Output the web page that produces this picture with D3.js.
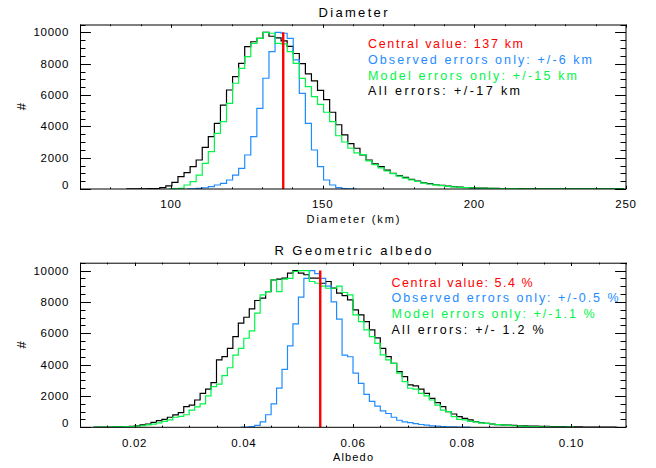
<!DOCTYPE html>
<html><head><meta charset="utf-8">
<script src="https://cdn.jsdelivr.net/npm/d3@7"></script>
<style>
body{margin:0;background:#fff;}
svg{display:block;font-family:"Liberation Sans",Arial,Helvetica,sans-serif;}
</style></head><body>
<svg id="chart" width="656" height="468"></svg>
<script>
// ================= DATA =================
// --- Diameter panel (km), histogram bins 2 km wide, values are bin counts ---
const diameterCentral = 137;
const diameterBinWidth = 2;
const diameterAllStart = 85.3;
const diameterAll = [5,8,10,15,20,30,90,200,420,790,1040,1430,1850,2660,3340,4190,5360,6320,7170,8020,9090,9400,9620,10000,9750,9650,9450,9100,8650,8000,7350,6900,6300,5700,4900,4100,3450,2900,2600,2170,1850,1600,1430,1210,1000,850,740,620,510,400,340,270,230,190,150,115,95,75,60,50,42,36,30,26,22,19,16,14,12,10,9,8,7,6,6,5,5,4,4,4,3,3,3];
const diameterModelStart = 99.3;
const diameterModel = [10,20,40,255,470,890,1640,2380,3550,4300,5470,6750,7700,8450,9300,9620,10000,9940,9300,9260,8770,8020,7060,6530,5900,5400,4900,4300,3400,3000,2600,2300,2200,1800,1550,1350,1150,980,820,700,580,480,380,320,260,210,170,140,110,90,70,55,45,38,32,27,23,19,16,14,12,10,9,8,7,6,5,5,4,4,3,3,3,2,2,2];
const diameterObservedStart = 105.3;
const diameterObserved = [5,15,40,80,150,255,360,575,890,1320,2170,3340,5150,7070,8770,10000,9940,9620,8240,6110,4190,2490,1430,575,255,85,30,10,0];
const diameterXTicks = [100, 150, 200, 250];
const diameterLegend = ["Central value: 137 km", "Observed errors only: +/-6 km", "Model errors only: +/-15 km", "All errors: +/-17 km"];

// --- Albedo panel, histogram bins 0.001 wide ---
const albedoCentral = 0.054;
const albedoBinWidth = 0.001;
const albedoAllStart = 0.0125;
const albedoAll = [5,10,15,20,25,30,45,60,100,150,210,320,420,510,640,790,930,1320,1420,1740,2170,2430,2850,4300,4510,5040,5790,6640,7020,7550,8090,8240,8660,9410,9450,9520,9840,10000,9840,9730,9510,9510,9190,9300,8880,8560,8400,8130,7490,7170,6740,6210,5700,5040,4510,4080,3550,3230,2700,2640,2430,2170,1850,1570,1320,1000,850,680,570,470,360,300,250,210,170,150,140,120,100,90,80,70,60,55,50,45,40,35,30,25,20,15,12,10,8,5,3];
const albedoModelStart = 0.0125;
const albedoModel = [5,10,15,20,25,30,40,50,70,100,150,200,280,380,480,640,700,800,1100,1300,1500,2000,2600,2750,3300,3800,4600,5040,5680,6150,7280,8450,8660,9410,8660,9450,9500,9940,10000,10000,9300,9190,9000,8870,8870,9000,8600,8450,7170,6740,6210,5790,5360,4620,4300,4080,3450,2910,2490,2430,2170,2000,1740,1420,1100,1000,680,510,470,380,340,280,250,210,170,150,125,100,80,65,50,40,30,25,20,15,10,8,5];
const albedoObservedStart = 0.0395;
const albedoObserved = [5,15,40,120,350,800,1500,2500,3700,5200,6600,8300,9500,10000,9800,9500,9000,8000,6900,4600,4500,3450,2800,2100,1650,1350,1050,880,640,450,350,300,240,180,140,95,70,50,35,25,15,10,5];
const albedoXTicks = [0.02, 0.04, 0.06, 0.08, 0.10];
const albedoLegend = ["Central value: 5.4 %", "Observed errors only: +/-0.5 %", "Model errors only: +/-1.1 %", "All errors: +/- 1.2 %"];

const countTicks = [0, 2000, 4000, 6000, 8000, 10000];

// ================= DRAWING =================
const COLORS = {all: "#000000", model: "#00F548", observed: "#1E8CFF", central: "#FF0000"};
const svg = d3.select("#chart");

function toBins(start, width, counts) {
  return counts.map((c, i) => [start + i * width, c]);
}

function drawPanel(o) {
  const x = d3.scaleLinear().domain(o.xDomain).range([80, 626]);
  const y = d3.scaleLinear().domain([0, 10500]).range([o.bottom, o.top]);
  const g = svg.append("g");
  const clipId = "clip" + o.id;
  svg.append("clipPath").attr("id", clipId).append("rect")
    .attr("x", 80).attr("y", o.top).attr("width", 546).attr("height", o.bottom - o.top);

  const plot = g.append("g").attr("clip-path", `url(#${clipId})`);
  const line = d3.line().x(d => x(d[0])).y(d => y(d[1])).curve(d3.curveStep);
  const series = [
    {bins: toBins(o.allStart, o.binWidth, o.all), color: COLORS.all},
    {bins: toBins(o.obsStart, o.binWidth, o.obs), color: COLORS.observed},
    {bins: toBins(o.modelStart, o.binWidth, o.model), color: COLORS.model}
  ];
  series.forEach(s => {
    plot.append("path").attr("d", line(s.bins)).attr("fill", "none")
      .attr("stroke", s.color).attr("stroke-width", 1.2);
  });
  plot.append("line").attr("x1", x(o.central)).attr("x2", x(o.central))
    .attr("y1", y(0)).attr("y2", y(10000))
    .attr("stroke", COLORS.central).attr("stroke-width", 2.4);

  // frame
  g.append("rect").attr("x", 80.5).attr("y", o.top + 0.5).attr("width", 545.5).attr("height", o.bottom - o.top - 0.5)
    .attr("fill", "none").attr("stroke", "#000").attr("stroke-width", 1);

  // x ticks (bottom & top)
  const xMinor = d3.range(o.xDomain[0], o.xDomain[1] + o.xMinorStep / 2, o.xMinorStep);
  const tk = g.append("g").attr("stroke", "#000").attr("stroke-width", 1);
  xMinor.forEach(v => {
    const isMajor = o.xTicks.some(t => Math.abs(t - v) < o.xMinorStep / 10);
    const len = isMajor ? 3.3 : 1.7;
    const px = Math.round(x(v)) + 0.5;
    tk.append("line").attr("x1", px).attr("x2", px).attr("y1", o.bottom).attr("y2", o.bottom - len);
    tk.append("line").attr("x1", px).attr("x2", px).attr("y1", o.top).attr("y2", o.top + len);
  });
  // y ticks (left & right)
  d3.range(0, 10501, 500).forEach(v => {
    const isMajor = v % 2000 === 0;
    const len = isMajor ? 10.9 : 5.5;
    const py = Math.round(y(v)) + 0.5;
    tk.append("line").attr("x1", 80).attr("x2", 80 + len).attr("y1", py).attr("y2", py);
    tk.append("line").attr("x1", 626).attr("x2", 626 - len).attr("y1", py).attr("y2", py);
  });

  // tick labels
  const lab = g.append("g").attr("font-size", 11.5).attr("fill", "#000").style("letter-spacing", "0.7px");
  o.xTicks.forEach(t => {
    lab.append("text").attr("x", x(t)).attr("y", o.bottom + 19.4).attr("text-anchor", "middle")
      .text(o.xFormat(t));
  });
  countTicks.forEach(t => {
    lab.append("text").attr("x", 69).attr("y", Math.min(y(t) + 4, o.bottom)).attr("text-anchor", "end")
      .text(t);
  });

  // titles
  g.append("text").attr("x", 353).attr("y", o.top - 8).attr("text-anchor", "middle")
    .attr("font-size", 13).attr("textLength", o.titleLen).attr("lengthAdjust", "spacing").text(o.title);
  g.append("text").attr("x", 353).attr("y", o.bottom + 33.6).attr("text-anchor", "middle")
    .attr("font-size", 11).attr("textLength", o.xTitleLen).attr("lengthAdjust", "spacing").text(o.xTitle);
  g.append("text").attr("transform", `translate(26,${(o.top + o.bottom) / 2}) rotate(-90)`)
    .attr("text-anchor", "middle").attr("font-size", 13).text("#");

  // legend
  const legColors = [COLORS.central, COLORS.observed, COLORS.model, COLORS.all];
  o.legend.forEach((t, i) => {
    g.append("text").attr("x", o.legX).attr("y", o.legY + i * 15.7)
      .attr("font-size", 12.5).attr("fill", legColors[i])
      .attr("textLength", o.legLens[i]).attr("lengthAdjust", "spacing").text(t);
  });
}

drawPanel({
  id: "d", top: 24.5, bottom: 189, xDomain: [70, 250], xMinorStep: 10, xTicks: diameterXTicks,
  xFormat: d3.format("d"),
  all: diameterAll, allStart: diameterAllStart, model: diameterModel, modelStart: diameterModelStart,
  obs: diameterObserved, obsStart: diameterObservedStart, binWidth: diameterBinWidth, central: diameterCentral,
  title: "Diameter", titleLen: 69, xTitle: "Diameter (km)", xTitleLen: 93,
  legend: diameterLegend, legX: 368, legY: 48.3, legLens: [155, 224, 209, 152]
});
drawPanel({
  id: "a", top: 262.7, bottom: 427.3, xDomain: [0.01, 0.11], xMinorStep: 0.005, xTicks: albedoXTicks,
  xFormat: d3.format(".2f"),
  all: albedoAll, allStart: albedoAllStart, model: albedoModel, modelStart: albedoModelStart,
  obs: albedoObserved, obsStart: albedoObservedStart, binWidth: albedoBinWidth, central: albedoCentral,
  title: "R Geometric albedo", titleLen: 157, xTitle: "Albedo", xTitleLen: 40,
  legend: albedoLegend, legX: 391.5, legY: 286.7, legLens: [141, 227, 203, 152]
});
</script>
</body></html>
